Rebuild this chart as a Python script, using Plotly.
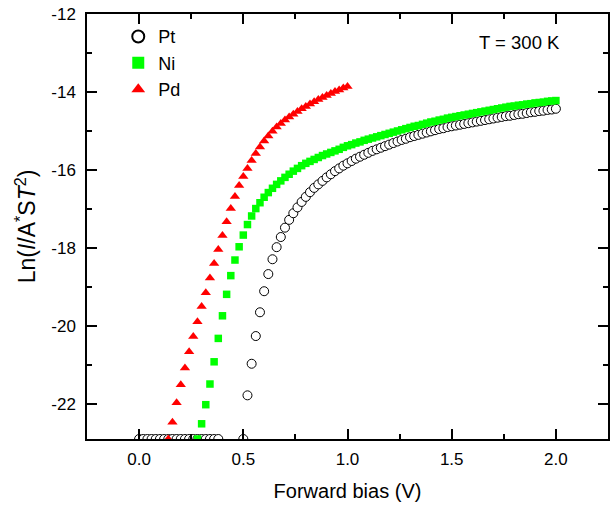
import plotly.graph_objects as go

# ---------------- data ----------------
pt_x = [0.00, 0.02, 0.04, 0.06, 0.08, 0.10, 0.12, 0.14, 0.16, 0.18,
        0.20, 0.22, 0.24, 0.26, 0.28, 0.30, 0.32, 0.34, 0.36, 0.38,
        0.50, 0.52, 0.54, 0.56, 0.58, 0.60, 0.62, 0.64, 0.66, 0.68,
        0.70, 0.72, 0.74, 0.76, 0.78, 0.80, 0.82, 0.84, 0.86, 0.88,
        0.90, 0.92, 0.94, 0.96, 0.98, 1.00, 1.02, 1.04, 1.06, 1.08,
        1.10, 1.12, 1.14, 1.16, 1.18, 1.20, 1.22, 1.24, 1.26, 1.28,
        1.30, 1.32, 1.34, 1.36, 1.38, 1.40, 1.42, 1.44, 1.46, 1.48,
        1.50, 1.52, 1.54, 1.56, 1.58, 1.60, 1.62, 1.64, 1.66, 1.68,
        1.70, 1.72, 1.74, 1.76, 1.78, 1.80, 1.82, 1.84, 1.86, 1.88,
        1.90, 1.92, 1.94, 1.96, 1.98, 2.00]
pt_y = [-22.9, -22.9, -22.9, -22.9, -22.9, -22.9, -22.9, -22.9, -22.9, -22.9,
        -22.9, -22.9, -22.9, -22.9, -22.9, -22.9, -22.9, -22.9, -22.9, -22.9,
        -22.9, -21.78, -20.97, -20.26, -19.65, -19.11, -18.67, -18.29, -17.98, -17.72,
        -17.48, -17.28, -17.11, -16.96, -16.82, -16.69, -16.57, -16.46, -16.37, -16.28,
        -16.19, -16.11, -16.03, -15.96, -15.89, -15.83, -15.77, -15.71, -15.66, -15.61,
        -15.56, -15.51, -15.47, -15.43, -15.39, -15.35, -15.31, -15.27, -15.23, -15.20,
        -15.16, -15.13, -15.10, -15.07, -15.04, -15.01, -14.98, -14.95, -14.93, -14.90,
        -14.88, -14.86, -14.84, -14.82, -14.80, -14.78, -14.76, -14.74, -14.72, -14.70,
        -14.68, -14.66, -14.64, -14.62, -14.61, -14.59, -14.57, -14.56, -14.54, -14.52,
        -14.51, -14.49, -14.48, -14.46, -14.45, -14.43]

ni_x = [0.28, 0.30, 0.32, 0.34, 0.36, 0.38, 0.40, 0.42, 0.44, 0.46,
        0.48, 0.50, 0.52, 0.54, 0.56, 0.58, 0.60, 0.62, 0.64, 0.66,
        0.68, 0.70, 0.72, 0.74, 0.76, 0.78, 0.80, 0.82, 0.84, 0.86,
        0.88, 0.90, 0.92, 0.94, 0.96, 0.98, 1.00, 1.02, 1.04, 1.06,
        1.08, 1.10, 1.12, 1.14, 1.16, 1.18, 1.20, 1.22, 1.24, 1.26,
        1.28, 1.30, 1.32, 1.34, 1.36, 1.38, 1.40, 1.42, 1.44, 1.46,
        1.48, 1.50, 1.52, 1.54, 1.56, 1.58, 1.60, 1.62, 1.64, 1.66,
        1.68, 1.70, 1.72, 1.74, 1.76, 1.78, 1.80, 1.82, 1.84, 1.86,
        1.88, 1.90, 1.92, 1.94, 1.96, 1.98, 2.00]
ni_y = [-22.9, -22.51, -22.02, -21.49, -20.92, -20.32, -19.74, -19.19, -18.71, -18.31,
        -17.97, -17.67, -17.40, -17.18, -16.99, -16.84, -16.70, -16.58, -16.47, -16.37,
        -16.28, -16.19, -16.11, -16.03, -15.96, -15.89, -15.83, -15.78, -15.73, -15.68,
        -15.63, -15.59, -15.55, -15.51, -15.47, -15.42, -15.38, -15.35, -15.31, -15.28,
        -15.24, -15.21, -15.18, -15.15, -15.12, -15.09, -15.06, -15.03, -15.00, -14.97,
        -14.94, -14.91, -14.88, -14.86, -14.83, -14.80, -14.77, -14.75, -14.72, -14.70,
        -14.67, -14.65, -14.63, -14.61, -14.59, -14.57, -14.55, -14.53, -14.51, -14.49,
        -14.47, -14.45, -14.43, -14.41, -14.39, -14.37, -14.36, -14.34, -14.33, -14.31,
        -14.30, -14.28, -14.27, -14.26, -14.24, -14.23, -14.22]

pd_x = [0.14, 0.16, 0.18, 0.20, 0.22, 0.24, 0.26, 0.28, 0.30, 0.32,
        0.34, 0.36, 0.38, 0.40, 0.42, 0.44, 0.46, 0.48, 0.50, 0.52,
        0.54, 0.56, 0.58, 0.60, 0.62, 0.64, 0.66, 0.68, 0.70, 0.72,
        0.74, 0.76, 0.78, 0.80, 0.82, 0.84, 0.86, 0.88, 0.90, 0.92,
        0.94, 0.96, 0.98, 1.00]
pd_y = [-22.9, -22.47, -21.97, -21.51, -21.08, -20.66, -20.27, -19.89, -19.50, -19.15,
        -18.77, -18.40, -18.04, -17.68, -17.33, -16.99, -16.68, -16.40, -16.17, -15.96,
        -15.76, -15.58, -15.41, -15.26, -15.13, -15.01, -14.90, -14.81, -14.72, -14.64,
        -14.57, -14.50, -14.43, -14.37, -14.31, -14.25, -14.19, -14.14, -14.09, -14.04,
        -13.99, -13.95, -13.90, -13.86]

x_ticks = [0.0, 0.5, 1.0, 1.5, 2.0]
x_ticklabels = ["0.0", "0.5", "1.0", "1.5", "2.0"]
y_ticks = [-22, -20, -18, -16, -14, -12]
y_ticklabels = ["-22", "-20", "-18", "-16", "-14", "-12"]

FONT = "Liberation Sans, Arial, sans-serif"

fig = go.Figure()
fig.add_trace(go.Scatter(
    x=pt_x, y=pt_y, mode="markers", name="Pt",
    marker=dict(symbol="circle", size=9, color="white",
                line=dict(color="black", width=1))))
fig.add_trace(go.Scatter(
    x=ni_x, y=ni_y, mode="markers", name="Ni",
    marker=dict(symbol="square", size=7.5, color="#00FF00",
                line=dict(width=0))))
fig.add_trace(go.Scatter(
    x=pd_x, y=pd_y, mode="markers", name="Pd",
    marker=dict(symbol="triangle-up", size=9, color="#FF0000",
                line=dict(width=0))))

axis_common = dict(
    showgrid=False, zeroline=False, showline=True, linecolor="black",
    linewidth=1.5, mirror="ticks", ticks="inside", ticklen=10,
    tickwidth=1.5, tickcolor="black",
    tickfont=dict(family=FONT, size=17, color="black"),
)

fig.update_xaxes(
    range=[-0.25, 2.25], tickvals=x_ticks, ticktext=x_ticklabels,
    minor=dict(tickvals=[-0.25, 0.25, 0.75, 1.25, 1.75, 2.25], ticks="inside", ticklen=5,
               tickwidth=1.5, tickcolor="black"),
    title=dict(text="Forward bias (V)", font=dict(family=FONT, size=20, color="black"),
               standoff=16),
    ticklabelstandoff=4,
    **axis_common)
fig.update_yaxes(
    range=[-22.9, -12], tickvals=y_ticks, ticktext=y_ticklabels,
    minor=dict(tickvals=[-21, -19, -17, -15, -13], ticks="inside", ticklen=5,
               tickwidth=1.5, tickcolor="black"),
    title=dict(text="Ln(<i>I</i>/A<sup>*</sup>S<i>T</i><sup>2</sup>)",
               font=dict(family=FONT, size=23, color="black"), standoff=9),
    ticklabelstandoff=6,
    **axis_common)

fig.add_annotation(
    text="T = 300 K", xref="paper", yref="paper", x=0.912, y=0.934,
    xanchor="right", yanchor="middle", showarrow=False,
    font=dict(family=FONT, size=18.5, color="black"))

fig.update_layout(
    width=610, height=506,
    margin=dict(l=87, r=0, t=14, b=67),
    paper_bgcolor="white", plot_bgcolor="white",
    showlegend=True,
    legend=dict(x=0.06, y=0.99, xanchor="left", yanchor="top",
                bgcolor="rgba(0,0,0,0)", borderwidth=0,
                font=dict(family=FONT, size=18, color="black"),
                tracegroupgap=0, itemsizing="constant"),
)

fig.write_html("out.html")
